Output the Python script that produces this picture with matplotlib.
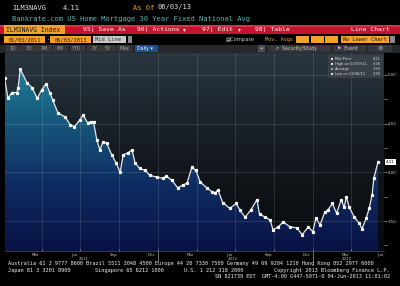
import matplotlib
matplotlib.use('Agg')
import matplotlib.pyplot as plt
import matplotlib.dates as mdates
import matplotlib.transforms as mtransforms
from matplotlib.patches import Rectangle, Polygon
from matplotlib.colors import LinearSegmentedColormap
import numpy as np
import pandas as pd

# ---------------- data ----------------
dates = ['2011-01-03', '2011-01-11', '2011-01-20', '2011-02-01', '2011-02-04', '2011-02-09',
         '2011-02-25', '2011-03-09', '2011-03-21', '2011-04-01', '2011-04-11', '2011-04-20',
         '2011-04-27', '2011-05-09', '2011-05-26', '2011-06-07', '2011-06-17', '2011-06-30',
         '2011-07-07', '2011-07-18', '2011-07-25', '2011-08-01', '2011-08-09', '2011-08-16',
         '2011-08-23', '2011-09-01', '2011-09-13', '2011-09-23', '2011-10-03', '2011-10-10',
         '2011-10-21', '2011-10-31', '2011-11-07', '2011-11-18', '2011-12-01', '2011-12-12',
         '2011-12-29',
         '2012-01-12', '2012-01-20', '2012-02-02', '2012-02-16', '2012-02-28', '2012-03-09',
         '2012-03-20', '2012-03-30', '2012-04-09', '2012-04-25', '2012-05-07', '2012-05-14',
         '2012-05-21', '2012-06-01', '2012-06-18', '2012-07-03', '2012-07-12', '2012-07-24',
         '2012-08-06', '2012-08-21', '2012-08-27', '2012-09-10', '2012-09-21', '2012-09-28',
         '2012-10-10', '2012-10-22', '2012-11-07', '2012-11-23', '2012-12-06', '2012-12-20',
         '2012-12-31',
         '2013-01-07', '2013-01-17', '2013-01-28', '2013-02-04', '2013-02-15', '2013-02-25',
         '2013-03-08', '2013-03-15', '2013-03-20', '2013-03-27', '2013-04-08', '2013-04-19',
         '2013-04-26', '2013-05-06', '2013-05-13', '2013-05-20', '2013-05-24', '2013-06-03']
rates = [4.97, 4.76, 4.82, 4.82, 4.87, 5.06, 4.92, 4.87, 4.76, 4.85,
         4.91, 4.82, 4.74, 4.61, 4.57, 4.49, 4.47, 4.54, 4.59, 4.51,
         4.52, 4.52, 4.33, 4.23, 4.31, 4.30, 4.18, 4.10, 4.00, 4.18,
         4.20, 4.23, 4.10, 4.04, 4.02, 3.97, 3.95,
         3.94, 3.96, 3.92, 3.84, 3.87, 3.89, 4.05, 4.02, 3.90, 3.84,
         3.80, 3.79, 3.82, 3.69, 3.63, 3.68, 3.61, 3.54, 3.61, 3.72,
         3.57, 3.54, 3.51, 3.41, 3.44, 3.49, 3.44, 3.43, 3.36, 3.44, 3.39,
         3.53, 3.46, 3.59, 3.61, 3.68, 3.58, 3.72, 3.64, 3.75, 3.64,
         3.54, 3.48, 3.42, 3.53, 3.63, 3.77, 3.94, 4.11]
y_ticks = [3.50, 4.00, 4.50, 5.00]
y_tick_labels = ['3.50', '4.00', '4.50', '5.00']
month_labels = ['Mar', 'Jun', 'Sep', 'Dec', 'Mar', 'Jun', 'Sep', 'Dec', 'Mar', 'Jun']
month_label_dates = ['2011-03-17', '2011-06-17', '2011-09-17', '2011-12-17', '2012-03-17',
                     '2012-06-17', '2012-09-17', '2012-12-17', '2013-03-17', '2013-06-08']
year_labels = ['2011', '2012', '2013']
year_label_dates = ['2011-07-08', '2012-06-25', '2013-03-20']
grid_dates = ['2011-04-01', '2011-07-01', '2011-10-01', '2012-01-01', '2012-04-01',
              '2012-07-01', '2012-10-01', '2013-01-01', '2013-04-01']
year_sep_dates = ['2012-01-01', '2013-01-01']
legend_names = ['Mid Price', 'High on 02/09/11', 'Average', 'Low on 12/06/12']
legend_values = ['4.11', '5.06', '3.95', '3.36']

# ---------------- figure ----------------
W, H = 400, 286
fig = plt.figure(figsize=(W / 100, H / 100), dpi=100)
fig.patch.set_facecolor('black')


def make_overlay(z):
    a = fig.add_axes([0, 0, 1, 1], zorder=z)
    a.set_xlim(0, W)
    a.set_ylim(H, 0)
    a.axis('off')
    a.patch.set_alpha(0)
    return a


ov = make_overlay(0)

MONO = 'DejaVu Sans Mono'
ORANGE = '#f2a22a'
RED = '#c3132d'


def box(x0, y0, x1, y1, color, a=None, **kw):
    a = a or ov
    a.add_patch(Rectangle((x0, y0), x1 - x0, y1 - y0, facecolor=color,
                          edgecolor='none', lw=0, **kw))


def txt(x, y, s, color, size, ha='left', family=MONO, a=None, **kw):
    a = a or ov
    a.text(x, y, s, color=color, fontsize=size, ha=ha, va='center',
           family=family, **kw)


# Row 1
txt(12, 7.5, 'ILM3NAVG', '#e6e6e6', 5.0)
txt(63, 7.5, '4.11', '#e6e6e6', 5.0)
txt(133, 7.5, 'As Of', ORANGE, 5.0)
txt(157, 7.5, '06/03/13', '#e6e6e6', 5.0)
# Row 2
txt(12, 19.5, 'Bankrate.com US Home Mortgage 30 Year Fixed National Avg', '#5cb3aa', 5.15)
# Row 3: red bar
box(0, 25, W, 34, RED)
box(0, 25, W, 27, '#d83048')
box(4, 25, 65, 34, ORANGE)
txt(6, 29.8, 'ILM3NAVG Index', '#1a1a1a', 4.7)
txt(83, 29.8, '95) Save As', 'white', 4.6)
txt(137, 29.8, '96) Actions', 'white', 4.6)
txt(183, 29.8, '\u25be', 'white', 4.0, family='DejaVu Sans')
txt(202, 29.8, '97) Edit', 'white', 4.6)
txt(238, 29.8, '\u25be', 'white', 4.0, family='DejaVu Sans')
txt(255, 29.8, '98) Table', 'white', 4.6)
txt(390, 29.8, 'Line Chart', 'white', 4.6, ha='right')
# Row 4
box(4, 36, 45, 43, ORANGE)
txt(24.5, 39.5, '01/03/2011', '#1a1a1a', 3.9, ha='center')
txt(47.5, 39.5, '-', 'white', 4, ha='center')
box(50, 36, 91, 43, ORANGE)
txt(70.5, 39.5, '06/03/2013', '#1a1a1a', 3.9, ha='center')
box(93, 36, 126, 43, '#c8c8c8')
txt(95, 39.5, 'Mid Line', '#303030', 3.9)
box(128, 36, 132, 43, '#8a8a8a')
txt(226, 39.5, '\u25a4Compare', '#c8c8c8', 3.8, family='DejaVu Sans')
txt(265, 39.5, 'Mov. Avgs', ORANGE, 3.8)
for bx in (296, 310.5, 325):
    box(bx, 36, bx + 13, 43, ORANGE)
box(341, 36, 389, 43, ORANGE)
txt(343, 39.5, 'No Lower Chart', '#1a1a1a', 3.8)
box(390, 36, 395, 43, '#8a8a8a')
# Row 5: period buttons
box(0, 44.5, W, 52.5, '#26282b')
periods = ['1D', '3D', '1M', '6M', 'YTD', '1Y', '5Y', 'Max']
px = [13, 29, 44, 60, 77, 94, 108, 124]
for lab, xx in zip(periods, px):
    box(xx - 7, 45, xx + 7.5, 52, '#34373b')
    txt(xx, 48.6, lab, '#a8a8a8', 3.4, ha='center', family='DejaVu Sans')
box(135, 45, 158, 52, '#1d4f8f')
txt(137, 48.6, 'Daily \u25be', 'white', 3.4, family='DejaVu Sans')
box(258, 45, 265, 52, '#4a4d52')
txt(261.5, 48.6, '\u25c0', '#c0c0c0', 2.5, ha='center', family='DejaVu Sans')
box(268, 45, 331, 52, '#34373b')
txt(275, 48.6, '\u2197  Security/Study', '#c8c8c8', 3.4, family='DejaVu Sans')
box(333, 45, 366, 52, '#34373b')
txt(337, 48.6, '\u2691  Event', '#c8c8c8', 3.4, family='DejaVu Sans')
box(368, 45, 392, 52, '#34373b')
txt(380, 48.6, '\u2699', '#c8c8c8', 4.2, ha='center', family='DejaVu Sans')

# Footer
txt(8, 264, 'Australia 61 2 9777 8600 Brazil 5511 3048 4500 Europe 44 20 7330 7500 '
    'Germany 49 69 9204 1210 Hong Kong 852 2977 6000', '#f0f0f0', 3.75)
txt(8, 270.5, 'Japan 81 3 3201 8900', '#f0f0f0', 3.75)
txt(95, 270.5, 'Singapore 65 6212 1000', '#f0f0f0', 3.75)
txt(184, 270.5, 'U.S. 1 212 318 2000', '#f0f0f0', 3.75)
txt(390, 270.5, 'Copyright 2013 Bloomberg Finance L.P.', '#f0f0f0', 3.75, ha='right')
txt(390, 276.5, 'SN 821739 EDT  GMT-4:00 G447-5071-0 04-Jun-2013 11:01:02', '#f0f0f0',
    3.75, ha='right')

# ---------------- chart ----------------
ax = fig.add_axes([5 / W, (H - 251) / H, 379 / W, 198 / H], zorder=1)
ax.set_facecolor('none')
xd = mdates.date2num(pd.to_datetime(dates))
xmin = mdates.date2num(pd.Timestamp('2011-01-04'))
xmax = mdates.date2num(pd.Timestamp('2013-06-17'))
ymin, ymax = 3.192, 5.226

bg_cmap = LinearSegmentedColormap.from_list('bg', ['#07090c', '#141a20', '#2a3640'])
grad = np.linspace(0, 1, 256).reshape(-1, 1)
ax.imshow(grad, extent=[xmin, xmax, ymin, ymax], origin='lower', aspect='auto',
          cmap=bg_cmap, zorder=0, interpolation='bicubic')

fill_cmap = LinearSegmentedColormap.from_list('fill', ['#091244', '#0f2c62', '#17597c', '#2089a0'])
im = ax.imshow(grad, extent=[xmin, xmax, ymin, ymax], origin='lower', aspect='auto',
               cmap=fill_cmap, zorder=1, interpolation='bicubic')
verts = [(xd[0], ymin)] + list(zip(xd, rates)) + [(xd[-1], ymin)]
poly = Polygon(verts, closed=True, facecolor='none', edgecolor='none', transform=ax.transData)
ax.add_patch(poly)
im.set_clip_path(poly)

for g in grid_dates:
    ax.axvline(mdates.date2num(pd.Timestamp(g)), color='white', alpha=0.14, lw=0.6, zorder=2)
for yv in y_ticks:
    ax.axhline(yv, color='white', alpha=0.14, lw=0.6, zorder=2)

ax.plot(xd, rates, color='#e6e6e6', lw=0.9, zorder=3, marker='s', ms=1.3,
        mec='white', mfc='white')

ax.set_xlim(xmin, xmax)
ax.set_ylim(ymin, ymax)
for k, s in ax.spines.items():
    s.set_visible(k == 'bottom')
ax.spines['bottom'].set_color('#4a525a')
ax.spines['bottom'].set_linewidth(0.5)

ax.yaxis.tick_right()
ax.set_yticks(y_ticks)
ax.set_yticklabels(y_tick_labels)
ax.set_yticks([3.25, 3.75, 4.25, 4.75], minor=True)
ax.tick_params(axis='y', which='both', length=1.8, width=0.5, color='#b0b0b0',
               labelsize=2.9, labelcolor='#c8c8c8', pad=1.2)

ax.set_xticks(mdates.date2num(pd.to_datetime(month_label_dates)))
ax.set_xticklabels(month_labels)
ax.set_xticks(mdates.date2num(pd.to_datetime(grid_dates)), minor=True)
ax.tick_params(axis='x', which='major', length=0, labelsize=2.9, labelcolor='#c8c8c8', pad=1.3)
ax.tick_params(axis='x', which='minor', length=1.2, width=0.5, color='#909090', direction='in')
xtr = ax.get_xaxis_transform()
for lab, d in zip(year_labels, year_label_dates):
    ax.text(mdates.date2num(pd.Timestamp(d)), -0.04, lab, transform=xtr, ha='center',
            va='center', fontsize=2.9, color='#c8c8c8', clip_on=False)
for d in year_sep_dates:
    xv = mdates.date2num(pd.Timestamp(d))
    ax.plot([xv, xv], [0, -0.055], transform=xtr, color='#a0a0a0', lw=0.5, clip_on=False)

# last value box
btr = mtransforms.blended_transform_factory(ax.transAxes, ax.transData)
ax.text(1.006, rates[-1], legend_values[0], transform=btr, fontsize=3.0, color='black',
        ha='left', va='center', clip_on=False,
        bbox=dict(boxstyle='square,pad=0.25', fc='white', ec='none'))

# legend box (pixel coords, drawn above the chart)
top = make_overlay(2)
box(328, 55, 383, 78, '#3c434b', a=top, alpha=0.85)
for i, (nm, vv) in enumerate(zip(legend_names, legend_values)):
    yy = 59 + i * 5
    box(331, yy - 1, 333, yy + 1, '#e0e0e0' if i != 2 else '#a0a0a0', a=top)
    txt(335, yy, nm, '#d8d8d8', 2.6, family='DejaVu Sans', a=top)
    txt(381, yy, vv, '#d8d8d8', 2.6, ha='right', family='DejaVu Sans', a=top)

fig.savefig('out.png', dpi=100, facecolor='black')
